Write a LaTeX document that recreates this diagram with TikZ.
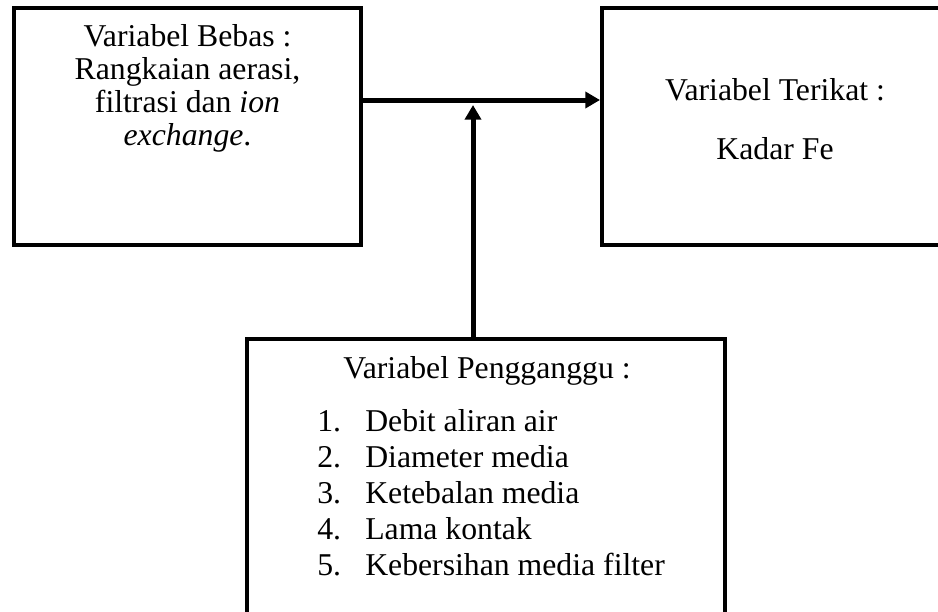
\documentclass[tikz,border=0pt]{standalone}
\usepackage{fontspec}
\setmainfont{Liberation Serif}
\usetikzlibrary{arrows.meta}
\tikzset{
  kotak/.style={draw, line width=3pt, inner sep=0pt, outer sep=0pt},
  teks/.style={anchor=base, inner sep=0pt, font=\fontsize{23.8}{28}\selectfont},
  panah/.style={line width=3.75pt, -{Triangle[width=12pt,length=11pt]}}
}
\begin{document}
\begin{tikzpicture}[x=0.75pt, y=-0.75pt]
    \useasboundingbox (0,0) rectangle (938,611);
    % kotak
    \node[kotak, minimum width=260.25pt, minimum height=177.75pt] (bebas) at (187.5,126.5) {};
    \node[kotak, minimum width=259.5pt, minimum height=177.75pt] (terikat) at (775,126.5) {};
    \node[kotak, minimum width=358.5pt, minimum height=240.75pt] (ganggu) at (486,499.5) {};

    \node[teks] (bebas1) at (187.5,46) {Variabel Bebas :};
    \node[teks] (bebas2) at (187.5,79) {Rangkaian aerasi,};
    \node[teks] (bebas3) at (187.5,112) {filtrasi dan \textit{ion}};
    \node[teks] (bebas4) at (187.5,145) {\textit{exchange}.};

    \node[teks] (terikat1) at (775,100) {Variabel Terikat :};
    \node[teks] (terikat2) at (775,159) {Kadar Fe};

    \node[teks] (ganggu0) at (487,378) {Variabel Pengganggu :};
    \foreach \i/\isi in {1/Debit aliran air, 2/Diameter media, 3/Ketebalan media,
                         4/Lama kontak, 5/Kebersihan media filter} {
        \node[teks, anchor=base west] (nomor\i) at (317, 395+36*\i) {\i.};
        \node[teks, anchor=base west] (butir\i) at (365, 395+36*\i) {\isi};
    }

    % panah
    \coordinate (temu) at (473,100);
    \draw[panah, shorten >=1.5pt] (bebas.east |- temu) -- (terikat.west |- temu);
    \draw[panah, shorten >=3.75pt] (ganggu.north -| temu) -- (temu);
\end{tikzpicture}
\end{document}
